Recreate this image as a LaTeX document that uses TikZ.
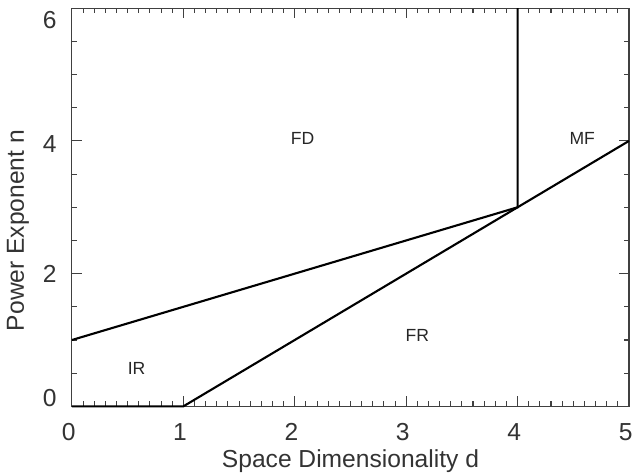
\documentclass[tikz,border=0pt]{standalone}
\usepackage{fontspec}
\setmainfont{Liberation Sans}
\begin{document}
\begin{tikzpicture}[x=2.228cm, y=1.327cm,
    axis/.style={black!75, line width=0.6pt},
    phase/.style={black, line width=1.2pt},
    ticklbl/.style={font=\fontsize{14}{16}\selectfont, black!80},
    region/.style={font=\fontsize{10}{12}\selectfont, black!85}]
    \useasboundingbox (-0.646,-1.026) rectangle (5.045,6.124);
    % frame and ticks
    \draw[axis] (0,0) rectangle (5,6);
    \foreach \i in {1,...,49} {
        \draw[axis] (\i/10,0) -- (\i/10,0.075);
        \draw[axis] (\i/10,6) -- (\i/10,5.925);
    }
    \foreach \i in {1,...,4} {
        \draw[axis] (\i,0) -- (\i,0.15);
        \draw[axis] (\i,6) -- (\i,5.85);
    }
    \foreach \j in {1,...,11} {
        \draw[axis] (0,\j/2) -- (0.045,\j/2);
        \draw[axis] (5,\j/2) -- (4.955,\j/2);
    }
    \foreach \j in {2,4} {
        \draw[axis] (0,\j) -- (0.09,\j);
        \draw[axis] (5,\j) -- (4.91,\j);
    }
    \foreach \i in {0,...,5}
        \node[ticklbl] (xl\i) at (\i-0.03,-0.39) {\i};
    \foreach \j/\y in {0/0.12,2/2,4/3.96,6/5.82}
        \node[ticklbl] (yl\j) at (-0.2,\y) {\j};
    \node[ticklbl] (xtitle) at (2.5,-0.82) {Space Dimensionality d};
    \node[ticklbl, rotate=90] (ytitle) at (-0.485,2.65) {Power Exponent n};
    % phase boundaries
    \coordinate (o) at (0,0);
    \coordinate (a) at (0,1);
    \coordinate (b) at (1,0);
    \coordinate (c) at (4,3);
    \coordinate (d) at (5,4);
    \coordinate (e) at (4,6);
    \draw[phase] (o)--(b)--(c)--(d);
    \draw[phase] (a)--(c)--(e);
    \node[region] (fd) at (2.07,4.03) {FD};
    \node[region] (mf) at (4.58,4.03) {MF};
    \node[region] (fr) at (3.1,1.07) {FR};
    \node[region] (ir) at (0.58,0.57) {IR};
\end{tikzpicture}
\end{document}
